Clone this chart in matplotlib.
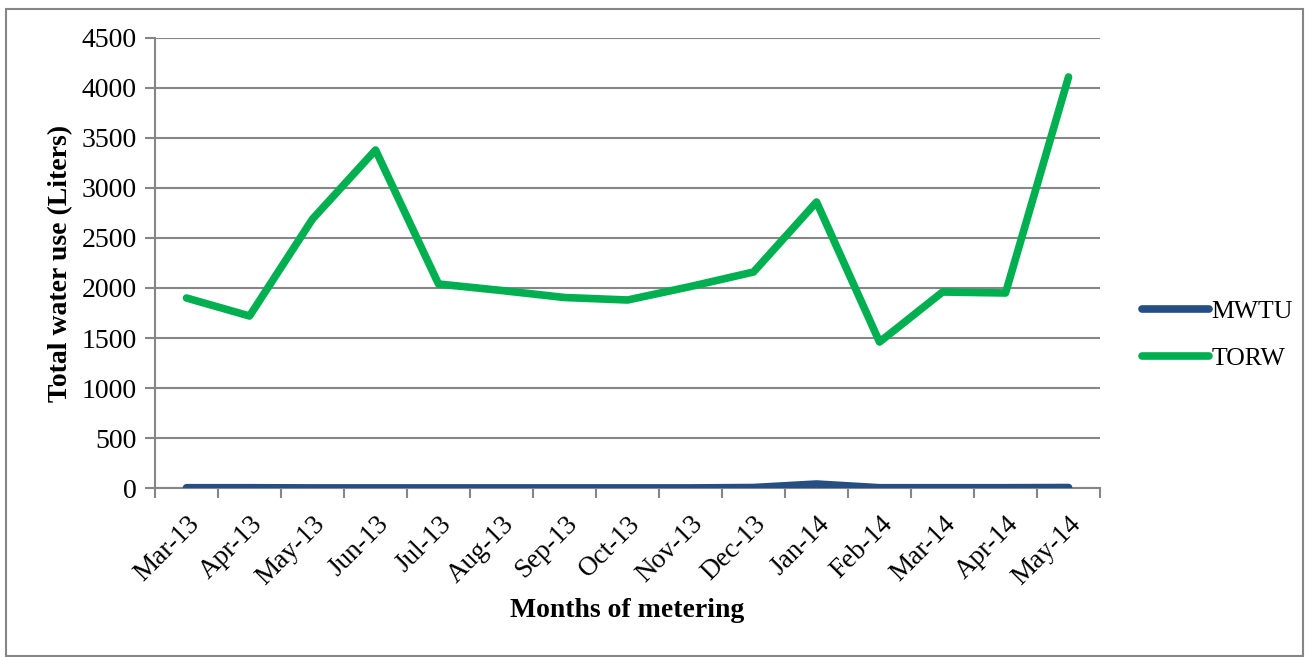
import numpy as np
import matplotlib.pyplot as plt
from matplotlib.patches import Rectangle

# Data
months = ["Mar-13", "Apr-13", "May-13", "Jun-13", "Jul-13", "Aug-13", "Sep-13",
          "Oct-13", "Nov-13", "Dec-13", "Jan-14", "Feb-14", "Mar-14", "Apr-14", "May-14"]
mwtu = [3, 3, 1, 1, 1, 1, 1, 1, 1, 5, 40, 3, 3, 3, 5]
torw = [1900, 1720, 2690, 3380, 2040, 1975, 1905, 1880, 2015, 2160, 2860, 1460, 1960, 1950, 4110]

plt.rcParams['font.family'] = ['Liberation Serif', 'DejaVu Serif']
grid_col = '#868686'

fig = plt.figure(figsize=(13.06, 6.57), dpi=100)
ax = fig.add_axes([0.1187, 0.2572, 0.7236, 0.685])

x = np.arange(len(months))
ax.plot(x, mwtu, color='#254E82', lw=5.5, solid_capstyle='round',
        solid_joinstyle='round', label='MWTU', zorder=3)
ax.plot(x, torw, color='#00B050', lw=5.5, solid_capstyle='round',
        solid_joinstyle='round', label='TORW', zorder=3)

ax.set_xlim(-0.5, len(months) - 0.5)
ax.set_ylim(0, 4500)
ax.set_yticks(np.arange(0, 4501, 500))
ax.yaxis.grid(True, color=grid_col, lw=1.5)
ax.set_axisbelow(True)

# category labels at centers, tick marks between categories
ax.set_xticks(x)
ax.set_xticklabels(months, rotation=45, ha='right', rotation_mode='anchor', fontsize=19.5)
ax.tick_params(axis='x', which='major', length=0, pad=17)
ax.set_xticks(np.arange(-0.5, len(months)), minor=True)
ax.tick_params(axis='x', which='minor', length=7, width=1.5, color=grid_col)
ax.tick_params(axis='y', length=7, width=1.5, color=grid_col, labelsize=20, pad=6)

for side in ['top', 'right']:
    ax.spines[side].set_visible(False)
for side in ['left', 'bottom']:
    ax.spines[side].set_color(grid_col)
    ax.spines[side].set_linewidth(1.5)

ax.set_ylabel("Total water use (Liters)", fontsize=20, fontweight='bold', labelpad=6)
ax.set_xlabel("Months of metering", fontsize=20, fontweight='bold', labelpad=6)

ax.legend(loc='center left', bbox_to_anchor=(1.02, 0.34), frameon=False,
          fontsize=18.5, handlelength=2.6, handletextpad=0.1, labelspacing=0.9)

# outer chart border
fig.patches.append(Rectangle((6 / 1306, 0.002), 1297 / 1306, 1 - 9 / 657 - 0.002,
                             transform=fig.transFigure, fill=False,
                             edgecolor=grid_col, lw=1.5))

fig.savefig("out.png", dpi=100)
